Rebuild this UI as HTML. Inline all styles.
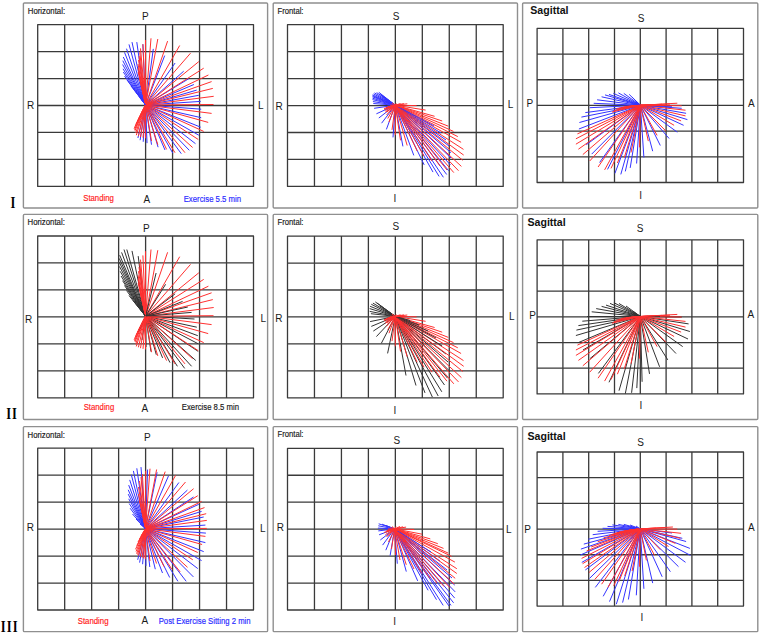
<!DOCTYPE html>
<html><head><meta charset="utf-8"><title>Vectorcardiogram loops</title><style>
html,body{margin:0;padding:0;background:#fff;width:760px;height:634px;overflow:hidden}
svg{display:block}
</style></head><body>
<svg width="760" height="634" viewBox="0 0 760 634">
<rect width="760" height="634" fill="#fff"/>
<rect x="23.4" y="3" width="244.2" height="205.05" rx="1" fill="none" stroke="#8f8f8f" stroke-width="1.4"/>
<rect x="273.2" y="3" width="244.3" height="205.05" rx="1" fill="none" stroke="#8f8f8f" stroke-width="1.4"/>
<rect x="522.6" y="3" width="235.2" height="205.05" rx="1" fill="none" stroke="#8f8f8f" stroke-width="1.4"/>
<rect x="23.4" y="214.4" width="244.2" height="205.05" rx="1" fill="none" stroke="#8f8f8f" stroke-width="1.4"/>
<rect x="273.2" y="214.4" width="244.3" height="205.05" rx="1" fill="none" stroke="#8f8f8f" stroke-width="1.4"/>
<rect x="522.6" y="214.4" width="235.2" height="205.05" rx="1" fill="none" stroke="#8f8f8f" stroke-width="1.4"/>
<rect x="23.4" y="426.6" width="244.2" height="205.05" rx="1" fill="none" stroke="#8f8f8f" stroke-width="1.4"/>
<rect x="273.2" y="426.6" width="244.3" height="205.05" rx="1" fill="none" stroke="#8f8f8f" stroke-width="1.4"/>
<rect x="522.6" y="426.6" width="235.2" height="205.05" rx="1" fill="none" stroke="#8f8f8f" stroke-width="1.4"/>
<path d="M64.68 24.6V186.4M91.65 24.6V186.4M118.63 24.6V186.4M145.6 24.6V186.4M172.57 24.6V186.4M199.55 24.6V186.4M226.53 24.6V186.4M37.7 51.57H253.5M37.7 78.53H253.5M37.7 105.5H253.5M37.7 132.47H253.5M37.7 159.43H253.5M37.7 24.6H253.5V186.4H37.7Z" fill="none" stroke="#3a3a3a" stroke-width="1.3" stroke-linejoin="round"/>
<path d="M314.46 24.7V186.4M341.43 24.7V186.4M368.39 24.7V186.4M395.35 24.7V186.4M422.31 24.7V186.4M449.27 24.7V186.4M476.24 24.7V186.4M287.5 51.65H503.2M287.5 78.6H503.2M287.5 105.55H503.2M287.5 132.5H503.2M287.5 159.45H503.2M287.5 24.7H503.2V186.4H287.5Z" fill="none" stroke="#3a3a3a" stroke-width="1.3" stroke-linejoin="round"/>
<path d="M562.9 28.4V182.5M588.7 28.4V182.5M614.5 28.4V182.5M640.3 28.4V182.5M666.1 28.4V182.5M691.9 28.4V182.5M717.7 28.4V182.5M537.1 54.08H743.5M537.1 79.77H743.5M537.1 105.45H743.5M537.1 131.13H743.5M537.1 156.82H743.5M537.1 28.4H743.5V182.5H537.1Z" fill="none" stroke="#3a3a3a" stroke-width="1.3" stroke-linejoin="round"/>
<path d="M64.68 236V397.8M91.65 236V397.8M118.63 236V397.8M145.6 236V397.8M172.57 236V397.8M199.55 236V397.8M226.53 236V397.8M37.7 262.97H253.5M37.7 289.93H253.5M37.7 316.9H253.5M37.7 343.87H253.5M37.7 370.83H253.5M37.7 236H253.5V397.8H37.7Z" fill="none" stroke="#3a3a3a" stroke-width="1.3" stroke-linejoin="round"/>
<path d="M314.46 236.1V397.8M341.43 236.1V397.8M368.39 236.1V397.8M395.35 236.1V397.8M422.31 236.1V397.8M449.27 236.1V397.8M476.24 236.1V397.8M287.5 263.05H503.2M287.5 290H503.2M287.5 316.95H503.2M287.5 343.9H503.2M287.5 370.85H503.2M287.5 236.1H503.2V397.8H287.5Z" fill="none" stroke="#3a3a3a" stroke-width="1.3" stroke-linejoin="round"/>
<path d="M562.9 239.8V393.9M588.7 239.8V393.9M614.5 239.8V393.9M640.3 239.8V393.9M666.1 239.8V393.9M691.9 239.8V393.9M717.7 239.8V393.9M537.1 265.48H743.5M537.1 291.17H743.5M537.1 316.85H743.5M537.1 342.53H743.5M537.1 368.22H743.5M537.1 239.8H743.5V393.9H537.1Z" fill="none" stroke="#3a3a3a" stroke-width="1.3" stroke-linejoin="round"/>
<path d="M64.68 448.2V610M91.65 448.2V610M118.63 448.2V610M145.6 448.2V610M172.57 448.2V610M199.55 448.2V610M226.53 448.2V610M37.7 475.17H253.5M37.7 502.13H253.5M37.7 529.1H253.5M37.7 556.07H253.5M37.7 583.03H253.5M37.7 448.2H253.5V610H37.7Z" fill="none" stroke="#3a3a3a" stroke-width="1.3" stroke-linejoin="round"/>
<path d="M314.46 448.3V610M341.43 448.3V610M368.39 448.3V610M395.35 448.3V610M422.31 448.3V610M449.27 448.3V610M476.24 448.3V610M287.5 475.25H503.2M287.5 502.2H503.2M287.5 529.15H503.2M287.5 556.1H503.2M287.5 583.05H503.2M287.5 448.3H503.2V610H287.5Z" fill="none" stroke="#3a3a3a" stroke-width="1.3" stroke-linejoin="round"/>
<path d="M562.9 452V606.1M588.7 452V606.1M614.5 452V606.1M640.3 452V606.1M666.1 452V606.1M691.9 452V606.1M717.7 452V606.1M537.1 477.68H743.5M537.1 503.37H743.5M537.1 529.05H743.5M537.1 554.73H743.5M537.1 580.42H743.5M537.1 452H743.5V606.1H537.1Z" fill="none" stroke="#3a3a3a" stroke-width="1.3" stroke-linejoin="round"/>
<path d="M145.6 105L132 42.1M145.6 105L136.8 42.1M145.6 105L195.5 143.7M145.6 105L189.3 150.3M145.6 105L129 44.4M145.6 105L198.8 135.2M145.6 105L142.9 44.2M145.6 105L181.3 153.7M145.6 105L126.5 48.7M145.6 105L200.7 127.2M145.6 105L201.2 117.7M145.6 105L124.5 52.4M145.6 105L153.3 48.9M145.6 105L201.2 109.2M145.6 105L172.8 153.2M145.6 105L200.7 101.4M145.6 105L198.8 95.3M145.6 105L196.7 90.1M145.6 105L164.7 55.6M145.6 105L123.3 57M145.6 105L193.9 84.5M145.6 105L175.1 63M145.6 105L183.7 71.2M145.6 105L188.9 78.6M145.6 105L122.8 60.7" fill="none" stroke="#3434ff" stroke-width="1.0"/>
<path d="M145.6 105L211.6 81.6" fill="none" stroke="#ff3030" stroke-width="1.0"/>
<path d="M145.6 105L165 150" fill="none" stroke="#3434ff" stroke-width="1.0"/>
<path d="M145.6 105L208.4 75M145.6 105L212.8 88.4M145.6 105L203.7 68.2M145.6 105L198.8 61.6M145.6 105L213.7 96.3M145.6 105L179.7 45.5M145.6 105L190.5 53.2M145.6 105L213.5 104.5M145.6 105L167.6 41.1M145.6 105L157.8 39M145.6 105L151 38.3" fill="none" stroke="#ff3030" stroke-width="1.0"/>
<path d="M145.6 105L122.6 64.5" fill="none" stroke="#3434ff" stroke-width="1.0"/>
<path d="M145.6 105L211.6 113.4M145.6 105L145.5 40M145.6 105L208.2 122.4M145.6 105L203.7 131.4M145.6 105L192.6 147.5M145.6 105L198.3 139.5" fill="none" stroke="#ff3030" stroke-width="1.0"/>
<path d="M145.6 105L158.1 147.2" fill="none" stroke="#3434ff" stroke-width="1.0"/>
<path d="M145.6 105L185 152.7" fill="none" stroke="#ff3030" stroke-width="1.0"/>
<path d="M145.6 105L123 68.8" fill="none" stroke="#3434ff" stroke-width="1.0"/>
<path d="M145.6 105L142.9 44.2" fill="none" stroke="#ff3030" stroke-width="1.0"/>
<path d="M145.6 105L151.5 144.7M145.6 105L123.3 72" fill="none" stroke="#3434ff" stroke-width="1.0"/>
<path d="M145.6 105L140.5 48.4M145.6 105L175 152.7" fill="none" stroke="#ff3030" stroke-width="1.0"/>
<path d="M145.6 105L147 143.1" fill="none" stroke="#3434ff" stroke-width="1.0"/>
<path d="M145.6 105L139.75 52.2" fill="none" stroke="#ff3030" stroke-width="1.0"/>
<path d="M145.6 105L143.2 141.8M145.6 105L124.5 76M145.6 105L140.1 140.2" fill="none" stroke="#3434ff" stroke-width="1.0"/>
<path d="M145.6 105L139 56M145.6 105L166.6 149.4" fill="none" stroke="#ff3030" stroke-width="1.0"/>
<path d="M145.6 105L137.9 138" fill="none" stroke="#3434ff" stroke-width="1.0"/>
<path d="M145.6 105L138.5 60" fill="none" stroke="#ff3030" stroke-width="1.0"/>
<path d="M145.6 105L127 80" fill="none" stroke="#3434ff" stroke-width="1.0"/>
<path d="M145.6 105L138 64M145.6 105L157.8 144.7M145.6 105L138.1 68M145.6 105L151.5 141" fill="none" stroke="#ff3030" stroke-width="1.0"/>
<path d="M145.6 105L131 86" fill="none" stroke="#3434ff" stroke-width="1.0"/>
<path d="M145.6 105L138.2 72M145.6 105L145.5 138.3M145.6 105L143 137.65M145.6 105L140.5 137M145.6 105L138.4 136.1M145.6 105L136.3 135.2M145.6 105L135.65 133M145.6 105L139.35 77M145.6 105L135 130.8M145.6 105L134.55 129.7M145.6 105L134.1 128.6M145.6 105L135.05 126.3M145.6 105L140.5 82" fill="none" stroke="#ff3030" stroke-width="1.0"/>
<path d="M145.6 105L136 92" fill="none" stroke="#3434ff" stroke-width="1.0"/>
<path d="M145.6 105L136 124M145.6 105L142.25 87M145.6 105L137.5 121M145.6 105L139 118M145.6 105L144 92" fill="none" stroke="#ff3030" stroke-width="1.0"/>
<path d="M145.6 105L140 98" fill="none" stroke="#3434ff" stroke-width="1.0"/>
<path d="M145.6 105L140.5 115M145.6 105L142 112" fill="none" stroke="#ff3030" stroke-width="1.0"/>
<path d="M395.3 105.2L443.4 177.3M395.3 105.2L446.7 174.5M395.3 105.2L448.6 170.7M395.3 105.2L439.1 176.4M395.3 105.2L450.5 165M395.3 105.2L433 172.1M395.3 105.2L451 158M395.3 105.2L451 152.7M395.3 105.2L449 146M395.3 105.2L424.2 164.9" fill="none" stroke="#3434ff" stroke-width="1.0"/>
<path d="M395.3 105.2L458.5 170.7M395.3 105.2L461.4 166.4M395.3 105.2L453.8 172.6" fill="none" stroke="#ff3030" stroke-width="1.0"/>
<path d="M395.3 105.2L446 140" fill="none" stroke="#3434ff" stroke-width="1.0"/>
<path d="M395.3 105.2L462.8 160.3M395.3 105.2L463.7 155.1M395.3 105.2L447 170M395.3 105.2L463.5 149.4" fill="none" stroke="#ff3030" stroke-width="1.0"/>
<path d="M395.3 105.2L413.8 155.4M395.3 105.2L441 133" fill="none" stroke="#3434ff" stroke-width="1.0"/>
<path d="M395.3 105.2L461.1 142.3M395.3 105.2L440 166M395.3 105.2L457.8 136.6M395.3 105.2L432 161M395.3 105.2L453.5 131.4" fill="none" stroke="#ff3030" stroke-width="1.0"/>
<path d="M395.3 105.2L434 126M395.3 105.2L402.9 146.4" fill="none" stroke="#3434ff" stroke-width="1.0"/>
<path d="M395.3 105.2L424 156M395.3 105.2L448.3 126.2M395.3 105.2L417.2 151.1M395.3 105.2L442.2 121" fill="none" stroke="#ff3030" stroke-width="1.0"/>
<path d="M395.3 105.2L393 137.4" fill="none" stroke="#3434ff" stroke-width="1.0"/>
<path d="M395.3 105.2L407.2 145.5M395.3 105.2L434.6 116.3" fill="none" stroke="#ff3030" stroke-width="1.0"/>
<path d="M395.3 105.2L386.4 129.4M395.3 105.2L372.5 94.9" fill="none" stroke="#3434ff" stroke-width="1.0"/>
<path d="M395.3 105.2L400.5 140.3" fill="none" stroke="#ff3030" stroke-width="1.0"/>
<path d="M395.3 105.2L372.5 95.85M395.3 105.2L373.5 93.9M395.3 105.2L372.5 96.8M395.3 105.2L374.5 92.9M395.3 105.2L372.5 98.2M395.3 105.2L372.5 99.6M395.3 105.2L372.9 101.55M395.3 105.2L381.6 123.2M395.3 105.2L376.65 92.6M395.3 105.2L373.3 103.5" fill="none" stroke="#3434ff" stroke-width="1.0"/>
<path d="M395.3 105.2L425.6 110.1" fill="none" stroke="#ff3030" stroke-width="1.0"/>
<path d="M395.3 105.2L374.1 108.3M395.3 105.2L378.8 92.3" fill="none" stroke="#3434ff" stroke-width="1.0"/>
<path d="M395.3 105.2L395.3 135.1" fill="none" stroke="#ff3030" stroke-width="1.0"/>
<path d="M395.3 105.2L378.8 118M395.3 105.2L376.4 113.8M395.3 105.2L379.9 93.65M395.3 105.2L381 95" fill="none" stroke="#3434ff" stroke-width="1.0"/>
<path d="M395.3 105.2L392 129.9M395.3 105.2L416.6 105.6" fill="none" stroke="#ff3030" stroke-width="1.0"/>
<path d="M395.3 105.2L383 97" fill="none" stroke="#3434ff" stroke-width="1.0"/>
<path d="M395.3 105.2L389 122" fill="none" stroke="#ff3030" stroke-width="1.0"/>
<path d="M395.3 105.2L385 99" fill="none" stroke="#3434ff" stroke-width="1.0"/>
<path d="M395.3 105.2L387.75 118.5M395.3 105.2L386.5 115M395.3 105.2L385.25 112.2M395.3 105.2L407.3 103.8M395.3 105.2L384 109.4M395.3 105.2L384 108.5M395.3 105.2L385.5 110.5M395.3 105.2L387 112M395.3 105.2L386 108.2M395.3 105.2L386 107.5M395.3 105.2L403.9 103.65M395.3 105.2L388 107M395.3 105.2L388 107M395.3 105.2L390 109M395.3 105.2L400.5 103.5M395.3 105.2L390 105M395.3 105.2L392 103M395.3 105.2L396.25 103.25" fill="none" stroke="#ff3030" stroke-width="1.0"/>
<path d="M640.4 105.3L614.9 173.4M640.4 105.3L607.5 169.4M640.4 105.3L620.8 174.4M640.4 105.3L599.6 162.5M640.4 105.3L591.7 154.1M640.4 105.3L625.3 171.4M640.4 105.3L586.3 144.7M640.4 105.3L578.9 129M640.4 105.3L630.2 167.9M640.4 105.3L579.4 122.5M640.4 105.3L581.4 117.1M640.4 105.3L636.6 163.5M640.4 105.3L585.3 112.6" fill="none" stroke="#3434ff" stroke-width="1.0"/>
<path d="M640.4 105.3L578.4 149.2M640.4 105.3L582.8 154.6M640.4 105.3L575.9 144.2M640.4 105.3L589.7 161M640.4 105.3L598.1 167" fill="none" stroke="#ff3030" stroke-width="1.0"/>
<path d="M640.4 105.3L643.9 157.5" fill="none" stroke="#3434ff" stroke-width="1.0"/>
<path d="M640.4 105.3L604.6 169.9M640.4 105.3L575.9 138.8" fill="none" stroke="#ff3030" stroke-width="1.0"/>
<path d="M640.4 105.3L589.7 107.7M640.4 105.3L687.4 119.6" fill="none" stroke="#3434ff" stroke-width="1.0"/>
<path d="M640.4 105.3L611 168.4M640.4 105.3L577.4 133.9" fill="none" stroke="#ff3030" stroke-width="1.0"/>
<path d="M640.4 105.3L683.6 125.3M640.4 105.3L652.7 151.2M640.4 105.3L593.7 103.3M640.4 105.3L686.1 113.3M640.4 105.3L677.3 132.2M640.4 105.3L660.3 145.5M640.4 105.3L669.1 138.5M640.4 105.3L597.1 99.8" fill="none" stroke="#3434ff" stroke-width="1.0"/>
<path d="M640.4 105.3L617.4 163" fill="none" stroke="#ff3030" stroke-width="1.0"/>
<path d="M640.4 105.3L681.7 108.3M640.4 105.3L601.6 96.8" fill="none" stroke="#3434ff" stroke-width="1.0"/>
<path d="M640.4 105.3L624.3 157.6" fill="none" stroke="#ff3030" stroke-width="1.0"/>
<path d="M640.4 105.3L605 94.9" fill="none" stroke="#3434ff" stroke-width="1.0"/>
<path d="M640.4 105.3L631 152.5" fill="none" stroke="#ff3030" stroke-width="1.0"/>
<path d="M640.4 105.3L609 94.4" fill="none" stroke="#3434ff" stroke-width="1.0"/>
<path d="M640.4 105.3L685.5 115.9M640.4 105.3L685.5 110.2" fill="none" stroke="#ff3030" stroke-width="1.0"/>
<path d="M640.4 105.3L672 106.8" fill="none" stroke="#3434ff" stroke-width="1.0"/>
<path d="M640.4 105.3L681.1 120.9" fill="none" stroke="#ff3030" stroke-width="1.0"/>
<path d="M640.4 105.3L613.4 93.4" fill="none" stroke="#3434ff" stroke-width="1.0"/>
<path d="M640.4 105.3L639.5 147.4M640.4 105.3L681.7 105.8M640.4 105.3L674.1 125.3M640.4 105.3L677.3 103.2M640.4 105.3L648.3 141.1M640.4 105.3L665.9 131" fill="none" stroke="#ff3030" stroke-width="1.0"/>
<path d="M640.4 105.3L618.4 92.9" fill="none" stroke="#3434ff" stroke-width="1.0"/>
<path d="M640.4 105.3L657.1 135.4M640.4 105.3L670 104M640.4 105.3L612 112" fill="none" stroke="#ff3030" stroke-width="1.0"/>
<path d="M640.4 105.3L623.8 93.4" fill="none" stroke="#3434ff" stroke-width="1.0"/>
<path d="M640.4 105.3L614 110.5M640.4 105.3L616 109" fill="none" stroke="#ff3030" stroke-width="1.0"/>
<path d="M640.4 105.3L629.2 94.4" fill="none" stroke="#3434ff" stroke-width="1.0"/>
<path d="M640.4 105.3L618.5 108.25M640.4 105.3L662 104.2M640.4 105.3L621 107.5M640.4 105.3L623.5 107" fill="none" stroke="#ff3030" stroke-width="1.0"/>
<path d="M640.4 105.3L632 97" fill="none" stroke="#3434ff" stroke-width="1.0"/>
<path d="M640.4 105.3L655 104.5M640.4 105.3L626 106.5M640.4 105.3L628.5 106.25M640.4 105.3L631 106" fill="none" stroke="#ff3030" stroke-width="1.0"/>
<path d="M640.4 105.3L636 101" fill="none" stroke="#3434ff" stroke-width="1.0"/>
<path d="M640.4 105.3L648 105M640.4 105.3L633 105.8M640.4 105.3L635 105.6" fill="none" stroke="#ff3030" stroke-width="1.0"/>
<path d="M145.6 316.2L124 249.5M145.6 316.2L126.8 249.5M145.6 316.2L121.6 252.4M145.6 316.2L191.6 366.3M145.6 316.2L195.8 360.5M145.6 316.2L132 250.9M145.6 316.2L119.7 255.2M145.6 316.2L184.7 368.4M145.6 316.2L119.3 258.5M145.6 316.2L198.2 351.4M145.6 316.2L138.2 256.1M145.6 316.2L119.3 262.3M145.6 316.2L198.2 343.8M145.6 316.2L177.4 366.3M145.6 316.2L119.5 266.5M145.6 316.2L197.8 335.7M145.6 316.2L170 362.6M145.6 316.2L196.8 327.2M145.6 316.2L120.2 271.3" fill="none" stroke="#333333" stroke-width="1.0"/>
<path d="M145.6 316.2L211.6 292.8" fill="none" stroke="#ff3030" stroke-width="1.0"/>
<path d="M145.6 316.2L194.5 319" fill="none" stroke="#333333" stroke-width="1.0"/>
<path d="M145.6 316.2L208.4 286.2M145.6 316.2L212.8 299.6M145.6 316.2L203.7 279.4M145.6 316.2L198.8 272.8M145.6 316.2L213.7 307.5M145.6 316.2L179.7 256.7M145.6 316.2L190.5 264.4M145.6 316.2L213.5 315.7M145.6 316.2L167.6 252.3" fill="none" stroke="#ff3030" stroke-width="1.0"/>
<path d="M145.6 316.2L121.1 276" fill="none" stroke="#333333" stroke-width="1.0"/>
<path d="M145.6 316.2L157.8 250.2M145.6 316.2L151 249.5M145.6 316.2L211.6 324.6" fill="none" stroke="#ff3030" stroke-width="1.0"/>
<path d="M145.6 316.2L191.6 312.4" fill="none" stroke="#333333" stroke-width="1.0"/>
<path d="M145.6 316.2L145.5 251.2M145.6 316.2L208.2 333.6" fill="none" stroke="#ff3030" stroke-width="1.0"/>
<path d="M145.6 316.2L162.6 357.9" fill="none" stroke="#333333" stroke-width="1.0"/>
<path d="M145.6 316.2L203.7 342.6" fill="none" stroke="#ff3030" stroke-width="1.0"/>
<path d="M145.6 316.2L156.1 273" fill="none" stroke="#333333" stroke-width="1.0"/>
<path d="M145.6 316.2L192.6 358.7M145.6 316.2L198.3 350.7M145.6 316.2L185 363.9" fill="none" stroke="#ff3030" stroke-width="1.0"/>
<path d="M145.6 316.2L187.8 307" fill="none" stroke="#333333" stroke-width="1.0"/>
<path d="M145.6 316.2L142.9 255.4" fill="none" stroke="#ff3030" stroke-width="1.0"/>
<path d="M145.6 316.2L122.6 280.7M145.6 316.2L156.3 354.7M145.6 316.2L182.6 301.4" fill="none" stroke="#333333" stroke-width="1.0"/>
<path d="M145.6 316.2L140.5 259.6M145.6 316.2L175 363.9" fill="none" stroke="#ff3030" stroke-width="1.0"/>
<path d="M145.6 316.2L165.6 284.3M145.6 316.2L124.5 285.5" fill="none" stroke="#333333" stroke-width="1.0"/>
<path d="M145.6 316.2L139.75 263.4" fill="none" stroke="#ff3030" stroke-width="1.0"/>
<path d="M145.6 316.2L175.1 293.8M145.6 316.2L151 351.6" fill="none" stroke="#333333" stroke-width="1.0"/>
<path d="M145.6 316.2L139 267.2M145.6 316.2L166.6 360.6" fill="none" stroke="#ff3030" stroke-width="1.0"/>
<path d="M145.6 316.2L126.5 290.5" fill="none" stroke="#333333" stroke-width="1.0"/>
<path d="M145.6 316.2L138.5 271.2" fill="none" stroke="#ff3030" stroke-width="1.0"/>
<path d="M145.6 316.2L146 347" fill="none" stroke="#333333" stroke-width="1.0"/>
<path d="M145.6 316.2L138 275.2M145.6 316.2L157.8 355.9" fill="none" stroke="#ff3030" stroke-width="1.0"/>
<path d="M145.6 316.2L129 295.5" fill="none" stroke="#333333" stroke-width="1.0"/>
<path d="M145.6 316.2L138.1 279.2M145.6 316.2L151.5 352.2" fill="none" stroke="#ff3030" stroke-width="1.0"/>
<path d="M145.6 316.2L142 340" fill="none" stroke="#333333" stroke-width="1.0"/>
<path d="M145.6 316.2L138.2 283.2M145.6 316.2L145.5 349.5M145.6 316.2L143 348.85M145.6 316.2L140.5 348.2M145.6 316.2L138.4 347.3M145.6 316.2L136.3 346.4M145.6 316.2L135.65 344.2" fill="none" stroke="#ff3030" stroke-width="1.0"/>
<path d="M145.6 316.2L133 300.5" fill="none" stroke="#333333" stroke-width="1.0"/>
<path d="M145.6 316.2L139.35 288.2M145.6 316.2L135 342M145.6 316.2L134.55 340.9M145.6 316.2L134.1 339.8" fill="none" stroke="#ff3030" stroke-width="1.0"/>
<path d="M145.6 316.2L138 332" fill="none" stroke="#333333" stroke-width="1.0"/>
<path d="M145.6 316.2L135.05 337.5M145.6 316.2L140.5 293.2M145.6 316.2L136 335.2" fill="none" stroke="#ff3030" stroke-width="1.0"/>
<path d="M145.6 316.2L137 305" fill="none" stroke="#333333" stroke-width="1.0"/>
<path d="M145.6 316.2L142.25 298.2M145.6 316.2L137.5 332.2M145.6 316.2L139 329.2M145.6 316.2L144 303.2M145.6 316.2L140.5 326.2" fill="none" stroke="#ff3030" stroke-width="1.0"/>
<path d="M145.6 316.2L141 310" fill="none" stroke="#333333" stroke-width="1.0"/>
<path d="M145.6 316.2L142 323.2" fill="none" stroke="#ff3030" stroke-width="1.0"/>
<path d="M395.3 316.4L438.2 396M395.3 316.4L432.4 397.1M395.3 316.4L441.8 391.8M395.3 316.4L444.5 385M395.3 316.4L425 392.9M395.3 316.4L447.6 378.2M395.3 316.4L448.5 370M395.3 316.4L416 385.5M395.3 316.4L448 362" fill="none" stroke="#333333" stroke-width="1.0"/>
<path d="M395.3 316.4L458.5 381.9" fill="none" stroke="#ff3030" stroke-width="1.0"/>
<path d="M395.3 316.4L446 354" fill="none" stroke="#333333" stroke-width="1.0"/>
<path d="M395.3 316.4L461.4 377.6M395.3 316.4L453.8 383.8M395.3 316.4L462.8 371.5" fill="none" stroke="#ff3030" stroke-width="1.0"/>
<path d="M395.3 316.4L406 375.5" fill="none" stroke="#333333" stroke-width="1.0"/>
<path d="M395.3 316.4L463.7 366.3M395.3 316.4L447 381.2M395.3 316.4L463.5 360.6" fill="none" stroke="#ff3030" stroke-width="1.0"/>
<path d="M395.3 316.4L442 346" fill="none" stroke="#333333" stroke-width="1.0"/>
<path d="M395.3 316.4L461.1 353.5M395.3 316.4L440 377.2M395.3 316.4L457.8 347.8" fill="none" stroke="#ff3030" stroke-width="1.0"/>
<path d="M395.3 316.4L395.5 363.4" fill="none" stroke="#333333" stroke-width="1.0"/>
<path d="M395.3 316.4L432 372.2" fill="none" stroke="#ff3030" stroke-width="1.0"/>
<path d="M395.3 316.4L436 338" fill="none" stroke="#333333" stroke-width="1.0"/>
<path d="M395.3 316.4L453.5 342.6M395.3 316.4L424 367.2M395.3 316.4L448.3 337.4" fill="none" stroke="#ff3030" stroke-width="1.0"/>
<path d="M395.3 316.4L387.6 353.4M395.3 316.4L428 331" fill="none" stroke="#333333" stroke-width="1.0"/>
<path d="M395.3 316.4L417.2 362.3M395.3 316.4L442.2 332.2" fill="none" stroke="#ff3030" stroke-width="1.0"/>
<path d="M395.3 316.4L381.3 343.4" fill="none" stroke="#333333" stroke-width="1.0"/>
<path d="M395.3 316.4L407.2 356.7M395.3 316.4L434.6 327.5" fill="none" stroke="#ff3030" stroke-width="1.0"/>
<path d="M395.3 316.4L376.4 336.6M395.3 316.4L370.1 306.3M395.3 316.4L371.3 304.3M395.3 316.4L369.7 308.6M395.3 316.4L373.3 331.1M395.3 316.4L369.7 311.4M395.3 316.4L372.9 303.1M395.3 316.4L371.3 326.4M395.3 316.4L370.1 321.6M395.3 316.4L419 325" fill="none" stroke="#333333" stroke-width="1.0"/>
<path d="M395.3 316.4L400.5 351.5" fill="none" stroke="#ff3030" stroke-width="1.0"/>
<path d="M395.3 316.4L375.3 301.9M395.3 316.4L370.9 313.7M395.3 316.4L377 303" fill="none" stroke="#333333" stroke-width="1.0"/>
<path d="M395.3 316.4L425.6 321.3M395.3 316.4L395.3 346.3" fill="none" stroke="#ff3030" stroke-width="1.0"/>
<path d="M395.3 316.4L380 306" fill="none" stroke="#333333" stroke-width="1.0"/>
<path d="M395.3 316.4L392 341.1" fill="none" stroke="#ff3030" stroke-width="1.0"/>
<path d="M395.3 316.4L410 320.5" fill="none" stroke="#333333" stroke-width="1.0"/>
<path d="M395.3 316.4L416.6 316.8M395.3 316.4L389 333.2" fill="none" stroke="#ff3030" stroke-width="1.0"/>
<path d="M395.3 316.4L386 311" fill="none" stroke="#333333" stroke-width="1.0"/>
<path d="M395.3 316.4L387.75 329.7M395.3 316.4L386.5 326.2M395.3 316.4L385.25 323.4M395.3 316.4L407.3 315M395.3 316.4L384 320.6M395.3 316.4L384 319.7M395.3 316.4L385.5 321.7M395.3 316.4L387 323.2M395.3 316.4L386 319.4M395.3 316.4L386 318.7M395.3 316.4L403.9 314.85M395.3 316.4L388 318.2M395.3 316.4L388 318.2M395.3 316.4L390 320.2M395.3 316.4L400.5 314.7M395.3 316.4L390 316.2M395.3 316.4L392 314.2M395.3 316.4L396.25 314.45" fill="none" stroke="#ff3030" stroke-width="1.0"/>
<path d="M640.4 316.5L625.3 393.7M640.4 316.5L619 390.7M640.4 316.5L631.6 392.8M640.4 316.5L609 382.3M640.4 316.5L636.8 388.1M640.4 316.5L598.4 373.4M640.4 316.5L577.9 342.8M640.4 316.5L575.9 335.5M640.4 316.5L583 350M640.4 316.5L590 358.6M640.4 316.5L576.4 330.1M640.4 316.5L642.1 381.8M640.4 316.5L578.4 325.6M640.4 316.5L582.3 321.2M640.4 316.5L649.5 373.9M640.4 316.5L659.6 366.8M640.4 316.5L587 316.5" fill="none" stroke="#333333" stroke-width="1.0"/>
<path d="M640.4 316.5L578.4 360.4M640.4 316.5L582.8 365.8M640.4 316.5L575.9 355.4M640.4 316.5L589.7 372.2" fill="none" stroke="#ff3030" stroke-width="1.0"/>
<path d="M640.4 316.5L688 339" fill="none" stroke="#333333" stroke-width="1.0"/>
<path d="M640.4 316.5L598.1 378.2" fill="none" stroke="#ff3030" stroke-width="1.0"/>
<path d="M640.4 316.5L682.7 346.6M640.4 316.5L689.9 331.5" fill="none" stroke="#333333" stroke-width="1.0"/>
<path d="M640.4 316.5L604.6 381.1" fill="none" stroke="#ff3030" stroke-width="1.0"/>
<path d="M640.4 316.5L676 353.5M640.4 316.5L667.8 359.9" fill="none" stroke="#333333" stroke-width="1.0"/>
<path d="M640.4 316.5L575.9 350" fill="none" stroke="#ff3030" stroke-width="1.0"/>
<path d="M640.4 316.5L591.7 311.8M640.4 316.5L688.6 323.9" fill="none" stroke="#333333" stroke-width="1.0"/>
<path d="M640.4 316.5L611 379.6M640.4 316.5L577.4 345.1" fill="none" stroke="#ff3030" stroke-width="1.0"/>
<path d="M640.4 316.5L596.2 308.6" fill="none" stroke="#333333" stroke-width="1.0"/>
<path d="M640.4 316.5L617.4 374.2" fill="none" stroke="#ff3030" stroke-width="1.0"/>
<path d="M640.4 316.5L681.7 317M640.4 316.5L601.6 306.4" fill="none" stroke="#333333" stroke-width="1.0"/>
<path d="M640.4 316.5L624.3 368.8" fill="none" stroke="#ff3030" stroke-width="1.0"/>
<path d="M640.4 316.5L606 305.1" fill="none" stroke="#333333" stroke-width="1.0"/>
<path d="M640.4 316.5L631 363.7" fill="none" stroke="#ff3030" stroke-width="1.0"/>
<path d="M640.4 316.5L610 303.4" fill="none" stroke="#333333" stroke-width="1.0"/>
<path d="M640.4 316.5L685.5 327.1M640.4 316.5L685.5 321.4M640.4 316.5L681.1 332.1" fill="none" stroke="#ff3030" stroke-width="1.0"/>
<path d="M640.4 316.5L613.9 302.7M640.4 316.5L670 316.5" fill="none" stroke="#333333" stroke-width="1.0"/>
<path d="M640.4 316.5L639.5 358.6M640.4 316.5L681.7 317M640.4 316.5L674.1 336.5M640.4 316.5L677.3 314.4M640.4 316.5L648.3 352.3M640.4 316.5L665.9 342.2" fill="none" stroke="#ff3030" stroke-width="1.0"/>
<path d="M640.4 316.5L619 303.5" fill="none" stroke="#333333" stroke-width="1.0"/>
<path d="M640.4 316.5L657.1 346.6M640.4 316.5L670 315.2M640.4 316.5L612 323.2" fill="none" stroke="#ff3030" stroke-width="1.0"/>
<path d="M640.4 316.5L660 316.3" fill="none" stroke="#333333" stroke-width="1.0"/>
<path d="M640.4 316.5L614 321.7" fill="none" stroke="#ff3030" stroke-width="1.0"/>
<path d="M640.4 316.5L626 306" fill="none" stroke="#333333" stroke-width="1.0"/>
<path d="M640.4 316.5L616 320.2M640.4 316.5L618.5 319.45M640.4 316.5L662 315.4M640.4 316.5L621 318.7M640.4 316.5L623.5 318.2M640.4 316.5L655 315.7M640.4 316.5L626 317.7M640.4 316.5L628.5 317.45" fill="none" stroke="#ff3030" stroke-width="1.0"/>
<path d="M640.4 316.5L634 312" fill="none" stroke="#333333" stroke-width="1.0"/>
<path d="M640.4 316.5L631 317.2M640.4 316.5L648 316.2M640.4 316.5L633 317M640.4 316.5L635 316.8" fill="none" stroke="#ff3030" stroke-width="1.0"/>
<path d="M145.5 528.7L193.4 576.9M145.5 528.7L186.2 581.3M145.5 528.7L197.8 568.6M145.5 528.7L201.6 560.6M145.5 528.7L203.7 551.6M145.5 528.7L177.9 581.3M145.5 528.7L141 467.1M145.5 528.7L205.4 542.6M145.5 528.7L136.8 468.3M145.5 528.7L205.9 533.1M145.5 528.7L205.4 525.1M145.5 528.7L203.7 517M145.5 528.7L147.6 469.5M145.5 528.7L133.4 470.9M145.5 528.7L201.6 511.4M145.5 528.7L198.8 504.3M145.5 528.7L168.5 475.9M145.5 528.7L157.1 472.3M145.5 528.7L193.5 497M145.5 528.7L178.9 482.5M145.5 528.7L187.4 490.1M145.5 528.7L131.3 474.7M145.5 528.7L169.7 577.5M145.5 528.7L129.7 479.9M145.5 528.7L162.5 573M145.5 528.7L128.7 485.1" fill="none" stroke="#3434ff" stroke-width="1.0"/>
<path d="M145.5 528.7L204.5 507.6M145.5 528.7L193.6 488.7M145.5 528.7L206.2 513.7M145.5 528.7L201.6 501.4M145.5 528.7L206.8 520.4M145.5 528.7L197.8 495.7M145.5 528.7L185.5 482M145.5 528.7L206.8 528.4M145.5 528.7L175.6 475.4" fill="none" stroke="#ff3030" stroke-width="1.0"/>
<path d="M145.5 528.7L128.2 489.8" fill="none" stroke="#3434ff" stroke-width="1.0"/>
<path d="M145.5 528.7L165.2 471.6M145.5 528.7L205.4 536.4M145.5 528.7L156.6 469.5M145.5 528.7L150 468.7" fill="none" stroke="#ff3030" stroke-width="1.0"/>
<path d="M145.5 528.7L155.3 569.2" fill="none" stroke="#3434ff" stroke-width="1.0"/>
<path d="M145.5 528.7L202.1 544.5M145.5 528.7L145.7 470.9M145.5 528.7L197.8 552.5M145.5 528.7L187.5 567.3M145.5 528.7L192.8 559.8M145.5 528.7L180.2 571.9" fill="none" stroke="#ff3030" stroke-width="1.0"/>
<path d="M145.5 528.7L128.2 494.1M145.5 528.7L149.8 567" fill="none" stroke="#3434ff" stroke-width="1.0"/>
<path d="M145.5 528.7L142.4 474.2" fill="none" stroke="#ff3030" stroke-width="1.0"/>
<path d="M145.5 528.7L145.9 565.9" fill="none" stroke="#3434ff" stroke-width="1.0"/>
<path d="M145.5 528.7L141 477" fill="none" stroke="#ff3030" stroke-width="1.0"/>
<path d="M145.5 528.7L142.6 564.2M145.5 528.7L139.6 562.6M145.5 528.7L128.7 498.8" fill="none" stroke="#3434ff" stroke-width="1.0"/>
<path d="M145.5 528.7L172 569.5M145.5 528.7L139.5 481" fill="none" stroke="#ff3030" stroke-width="1.0"/>
<path d="M145.5 528.7L137.7 559.8M145.5 528.7L129.2 503.5" fill="none" stroke="#3434ff" stroke-width="1.0"/>
<path d="M145.5 528.7L138.5 487M145.5 528.7L164 566.5" fill="none" stroke="#ff3030" stroke-width="1.0"/>
<path d="M145.5 528.7L130.1 508.2" fill="none" stroke="#3434ff" stroke-width="1.0"/>
<path d="M145.5 528.7L156.5 563.5M145.5 528.7L138.5 494M145.5 528.7L150 561M145.5 528.7L145.4 559.2M145.5 528.7L143.75 558.4M145.5 528.7L142.1 557.6M145.5 528.7L139.5 501M145.5 528.7L140.3 556.55" fill="none" stroke="#ff3030" stroke-width="1.0"/>
<path d="M145.5 528.7L132.5 514" fill="none" stroke="#3434ff" stroke-width="1.0"/>
<path d="M145.5 528.7L138.5 555.5M145.5 528.7L137.55 554.6M145.5 528.7L136.6 553.7M145.5 528.7L136.05 551.5M145.5 528.7L135.5 549.3M145.5 528.7L141.5 508" fill="none" stroke="#ff3030" stroke-width="1.0"/>
<path d="M145.5 528.7L136 519" fill="none" stroke="#3434ff" stroke-width="1.0"/>
<path d="M145.5 528.7L136.75 545.65M145.5 528.7L138 542M145.5 528.7L143.5 516M145.5 528.7L139.5 539" fill="none" stroke="#ff3030" stroke-width="1.0"/>
<path d="M145.5 528.7L140 524" fill="none" stroke="#3434ff" stroke-width="1.0"/>
<path d="M145.5 528.7L141 536" fill="none" stroke="#ff3030" stroke-width="1.0"/>
<path d="M394.6 528.9L451 605.4M394.6 528.9L453.6 602.8M394.6 528.9L449 606M394.6 528.9L454.7 598.1M394.6 528.9L443.2 605.4M394.6 528.9L455.2 591.9M394.6 528.9L454.7 585.1M394.6 528.9L436.5 599.7M394.6 528.9L452 578M394.6 528.9L428.1 590.3M394.6 528.9L447 570M394.6 528.9L417.7 580.9" fill="none" stroke="#3434ff" stroke-width="1.0"/>
<path d="M394.6 528.9L454.2 584.1M394.6 528.9L450 587.7" fill="none" stroke="#ff3030" stroke-width="1.0"/>
<path d="M394.6 528.9L440 561" fill="none" stroke="#3434ff" stroke-width="1.0"/>
<path d="M394.6 528.9L455.2 578.3M394.6 528.9L456.8 573.5M394.6 528.9L444 586.5M394.6 528.9L456.8 568.7M394.6 528.9L454.9 562.1M394.6 528.9L437 583M394.6 528.9L451.6 556.4" fill="none" stroke="#ff3030" stroke-width="1.0"/>
<path d="M394.6 528.9L406.3 571.6M394.6 528.9L431 552" fill="none" stroke="#3434ff" stroke-width="1.0"/>
<path d="M394.6 528.9L430 578.5M394.6 528.9L448.2 553.1M394.6 528.9L443.5 548.4M394.6 528.9L422 573.5" fill="none" stroke="#ff3030" stroke-width="1.0"/>
<path d="M394.6 528.9L397.3 563.7" fill="none" stroke="#3434ff" stroke-width="1.0"/>
<path d="M394.6 528.9L437.8 543.7M394.6 528.9L414 569" fill="none" stroke="#ff3030" stroke-width="1.0"/>
<path d="M394.6 528.9L390.1 555.7" fill="none" stroke="#3434ff" stroke-width="1.0"/>
<path d="M394.6 528.9L406.3 564.8M394.6 528.9L430.3 538.9" fill="none" stroke="#ff3030" stroke-width="1.0"/>
<path d="M394.6 528.9L385.8 550.2" fill="none" stroke="#3434ff" stroke-width="1.0"/>
<path d="M394.6 528.9L400 560" fill="none" stroke="#ff3030" stroke-width="1.0"/>
<path d="M394.6 528.9L382.6 545.1" fill="none" stroke="#3434ff" stroke-width="1.0"/>
<path d="M394.6 528.9L422.2 534.2M394.6 528.9L395.5 555" fill="none" stroke="#ff3030" stroke-width="1.0"/>
<path d="M394.6 528.9L380.3 540M394.6 528.9L377.9 528.1M394.6 528.9L378.7 523.8M394.6 528.9L378.3 525.8M394.6 528.9L379.1 534.8M394.6 528.9L378.3 530.9" fill="none" stroke="#3434ff" stroke-width="1.0"/>
<path d="M394.6 528.9L391.5 549M394.6 528.9L414.2 529.5" fill="none" stroke="#ff3030" stroke-width="1.0"/>
<path d="M394.6 528.9L382 524.2" fill="none" stroke="#3434ff" stroke-width="1.0"/>
<path d="M394.6 528.9L388.5 542" fill="none" stroke="#ff3030" stroke-width="1.0"/>
<path d="M394.6 528.9L386 525.5" fill="none" stroke="#3434ff" stroke-width="1.0"/>
<path d="M394.6 528.9L406.1 527.1M394.6 528.9L386.5 537M394.6 528.9L384 532.5M394.6 528.9L385.5 534.5M394.6 528.9L387.5 536M394.6 528.9L386 532M394.6 528.9L403.05 526.8M394.6 528.9L386.5 530.5M394.6 528.9L387 530.5M394.6 528.9L388 531M394.6 528.9L388 529M394.6 528.9L401 529.5M394.6 528.9L390 533M394.6 528.9L400 526.5M394.6 528.9L390 527.75M394.6 528.9L392 526.5M394.6 528.9L397 531M394.6 528.9L396 526.5" fill="none" stroke="#ff3030" stroke-width="1.0"/>
<path d="M640.2 528.9L616.3 604.2M640.2 528.9L609.5 601.6M640.2 528.9L603.2 596.3M640.2 528.9L622.6 602.6M640.2 528.9L595.3 587.4M640.2 528.9L628.4 599.5M640.2 528.9L589.5 578.4M640.2 528.9L585.3 570M640.2 528.9L581.8 562.4M640.2 528.9L636.3 595.3M640.2 528.9L580.4 555M640.2 528.9L580.9 549.1M640.2 528.9L643.9 588.8M640.2 528.9L583.8 544.1M640.2 528.9L690.5 555.4M640.2 528.9L685.5 562.3M640.2 528.9L652.7 583.1M640.2 528.9L678.5 566.7M640.2 528.9L689.9 548.4M640.2 528.9L588.3 539.2M640.2 528.9L662.2 576.8M640.2 528.9L670.4 571.7M640.2 528.9L592.7 534.7" fill="none" stroke="#3434ff" stroke-width="1.0"/>
<path d="M640.2 528.9L594.7 579.5" fill="none" stroke="#ff3030" stroke-width="1.0"/>
<path d="M640.2 528.9L686.1 541.5" fill="none" stroke="#3434ff" stroke-width="1.0"/>
<path d="M640.2 528.9L584.5 567.5M640.2 528.9L601.6 584.2M640.2 528.9L588.9 572.6M640.2 528.9L582.6 563.7M640.2 528.9L607.9 587.4M640.2 528.9L581.6 558.4M640.2 528.9L613.7 585.8" fill="none" stroke="#ff3030" stroke-width="1.0"/>
<path d="M640.2 528.9L682.3 538.3M640.2 528.9L597.6 531.3" fill="none" stroke="#3434ff" stroke-width="1.0"/>
<path d="M640.2 528.9L586.5 551M640.2 528.9L618.9 581.6" fill="none" stroke="#ff3030" stroke-width="1.0"/>
<path d="M640.2 528.9L602.6 528.3" fill="none" stroke="#3434ff" stroke-width="1.0"/>
<path d="M640.2 528.9L591.1 547M640.2 528.9L624.7 575.8" fill="none" stroke="#ff3030" stroke-width="1.0"/>
<path d="M640.2 528.9L607.5 526.4M640.2 528.9L672 533" fill="none" stroke="#3434ff" stroke-width="1.0"/>
<path d="M640.2 528.9L597.7 541.7M640.2 528.9L632.1 571M640.2 528.9L680.4 538.3M640.2 528.9L681.1 533.3" fill="none" stroke="#ff3030" stroke-width="1.0"/>
<path d="M640.2 528.9L612.4 524.9" fill="none" stroke="#3434ff" stroke-width="1.0"/>
<path d="M640.2 528.9L675.4 543.4M640.2 528.9L639.5 566.7M640.2 528.9L603.6 537.8M640.2 528.9L677.3 529.1M640.2 528.9L668.5 546.5M640.2 528.9L672.9 527M640.2 528.9L646.4 560.4M640.2 528.9L609 535.5" fill="none" stroke="#ff3030" stroke-width="1.0"/>
<path d="M640.2 528.9L618.4 524.4" fill="none" stroke="#3434ff" stroke-width="1.0"/>
<path d="M640.2 528.9L654.6 555.4M640.2 528.9L611.5 534.5M640.2 528.9L660.3 549.7M640.2 528.9L614 533.5" fill="none" stroke="#ff3030" stroke-width="1.0"/>
<path d="M640.2 528.9L623.8 524.4" fill="none" stroke="#3434ff" stroke-width="1.0"/>
<path d="M640.2 528.9L616.5 532.75M640.2 528.9L664 527.6M640.2 528.9L619 532M640.2 528.9L621.5 531.5M640.2 528.9L624 531M640.2 528.9L656 528.2" fill="none" stroke="#ff3030" stroke-width="1.0"/>
<path d="M640.2 528.9L630 525" fill="none" stroke="#3434ff" stroke-width="1.0"/>
<path d="M640.2 528.9L626.5 530.5M640.2 528.9L629 530M640.2 528.9L631.5 529.75M640.2 528.9L648 528.6" fill="none" stroke="#ff3030" stroke-width="1.0"/>
<path d="M640.2 528.9L636 526" fill="none" stroke="#3434ff" stroke-width="1.0"/>
<path d="M640.2 528.9L634 529.5" fill="none" stroke="#ff3030" stroke-width="1.0"/>
<text x="27.8" y="14" font-family="Liberation Sans" font-size="9.2" font-weight="normal" fill="#1a1a1a" textLength="37.3" lengthAdjust="spacingAndGlyphs" stroke="#1a1a1a" stroke-width="0.18">Horizontal:</text>
<text x="277.5" y="14.2" font-family="Liberation Sans" font-size="9.2" font-weight="normal" fill="#1a1a1a" textLength="26" lengthAdjust="spacingAndGlyphs" stroke="#1a1a1a" stroke-width="0.18">Frontal:</text>
<text x="530.3" y="14.2" font-family="Liberation Sans" font-size="10" font-weight="bold" fill="#111" textLength="38.2" lengthAdjust="spacingAndGlyphs">Sagittal</text>
<text x="145.35" y="19.7" font-family="Liberation Sans" font-size="10.0" font-weight="normal" fill="#1a1a1a" text-anchor="middle">P</text>
<text x="30.52" y="108.7" font-family="Liberation Sans" font-size="10.0" font-weight="normal" fill="#1a1a1a" text-anchor="middle">R</text>
<text x="260.85" y="108.7" font-family="Liberation Sans" font-size="10.0" font-weight="normal" fill="#1a1a1a" text-anchor="middle">L</text>
<text x="146.95" y="202.9" font-family="Liberation Sans" font-size="10.0" font-weight="normal" fill="#1a1a1a" text-anchor="middle">A</text>
<text x="396" y="19.7" font-family="Liberation Sans" font-size="10.0" font-weight="normal" fill="#1a1a1a" text-anchor="middle">S</text>
<text x="279" y="109.9" font-family="Liberation Sans" font-size="10.0" font-weight="normal" fill="#1a1a1a" text-anchor="middle">R</text>
<text x="510.48" y="107.9" font-family="Liberation Sans" font-size="10.0" font-weight="normal" fill="#1a1a1a" text-anchor="middle">L</text>
<text x="395" y="202.2" font-family="Liberation Sans" font-size="10.0" font-weight="normal" fill="#1a1a1a" text-anchor="middle">I</text>
<text x="641.15" y="21.7" font-family="Liberation Sans" font-size="10.0" font-weight="normal" fill="#1a1a1a" text-anchor="middle">S</text>
<text x="529.95" y="107" font-family="Liberation Sans" font-size="10.0" font-weight="normal" fill="#1a1a1a" text-anchor="middle">P</text>
<text x="751.4" y="106.8" font-family="Liberation Sans" font-size="10.0" font-weight="normal" fill="#1a1a1a" text-anchor="middle">A</text>
<text x="640.7" y="198.7" font-family="Liberation Sans" font-size="10.0" font-weight="normal" fill="#1a1a1a" text-anchor="middle">I</text>
<text x="27.5" y="224.8" font-family="Liberation Sans" font-size="9.2" font-weight="normal" fill="#1a1a1a" textLength="37.3" lengthAdjust="spacingAndGlyphs" stroke="#1a1a1a" stroke-width="0.18">Horizontal:</text>
<text x="277.5" y="224.8" font-family="Liberation Sans" font-size="9.2" font-weight="normal" fill="#1a1a1a" textLength="26" lengthAdjust="spacingAndGlyphs" stroke="#1a1a1a" stroke-width="0.18">Frontal:</text>
<text x="527.5" y="225.8" font-family="Liberation Sans" font-size="10" font-weight="bold" fill="#111" textLength="38.2" lengthAdjust="spacingAndGlyphs">Sagittal</text>
<text x="146.3" y="231.7" font-family="Liberation Sans" font-size="10.0" font-weight="normal" fill="#1a1a1a" text-anchor="middle">P</text>
<text x="28.55" y="323.1" font-family="Liberation Sans" font-size="10.0" font-weight="normal" fill="#1a1a1a" text-anchor="middle">R</text>
<text x="263.4" y="321.8" font-family="Liberation Sans" font-size="10.0" font-weight="normal" fill="#1a1a1a" text-anchor="middle">L</text>
<text x="144.9" y="411.7" font-family="Liberation Sans" font-size="10.0" font-weight="normal" fill="#1a1a1a" text-anchor="middle">A</text>
<text x="395.8" y="229.8" font-family="Liberation Sans" font-size="10.0" font-weight="normal" fill="#1a1a1a" text-anchor="middle">S</text>
<text x="278.9" y="321.8" font-family="Liberation Sans" font-size="10.0" font-weight="normal" fill="#1a1a1a" text-anchor="middle">R</text>
<text x="511.7" y="319.6" font-family="Liberation Sans" font-size="10.0" font-weight="normal" fill="#1a1a1a" text-anchor="middle">L</text>
<text x="394.9" y="413.6" font-family="Liberation Sans" font-size="10.0" font-weight="normal" fill="#1a1a1a" text-anchor="middle">I</text>
<text x="640.1" y="231.7" font-family="Liberation Sans" font-size="10.0" font-weight="normal" fill="#1a1a1a" text-anchor="middle">S</text>
<text x="532.5" y="319.2" font-family="Liberation Sans" font-size="10.0" font-weight="normal" fill="#1a1a1a" text-anchor="middle">P</text>
<text x="750.9" y="317.6" font-family="Liberation Sans" font-size="10.0" font-weight="normal" fill="#1a1a1a" text-anchor="middle">A</text>
<text x="640.9" y="408.6" font-family="Liberation Sans" font-size="10.0" font-weight="normal" fill="#1a1a1a" text-anchor="middle">I</text>
<text x="27.5" y="437.8" font-family="Liberation Sans" font-size="9.2" font-weight="normal" fill="#1a1a1a" textLength="37.3" lengthAdjust="spacingAndGlyphs" stroke="#1a1a1a" stroke-width="0.18">Horizontal:</text>
<text x="277.5" y="437.4" font-family="Liberation Sans" font-size="9.2" font-weight="normal" fill="#1a1a1a" textLength="26" lengthAdjust="spacingAndGlyphs" stroke="#1a1a1a" stroke-width="0.18">Frontal:</text>
<text x="527.5" y="439.8" font-family="Liberation Sans" font-size="10" font-weight="bold" fill="#111" textLength="38.2" lengthAdjust="spacingAndGlyphs">Sagittal</text>
<text x="147.3" y="441.4" font-family="Liberation Sans" font-size="10.0" font-weight="normal" fill="#1a1a1a" text-anchor="middle">P</text>
<text x="30.4" y="530.6" font-family="Liberation Sans" font-size="10.0" font-weight="normal" fill="#1a1a1a" text-anchor="middle">R</text>
<text x="262.9" y="531.9" font-family="Liberation Sans" font-size="10.0" font-weight="normal" fill="#1a1a1a" text-anchor="middle">L</text>
<text x="144.95" y="624" font-family="Liberation Sans" font-size="10.0" font-weight="normal" fill="#1a1a1a" text-anchor="middle">A</text>
<text x="396.8" y="444.1" font-family="Liberation Sans" font-size="10.0" font-weight="normal" fill="#1a1a1a" text-anchor="middle">S</text>
<text x="280.4" y="530.6" font-family="Liberation Sans" font-size="10.0" font-weight="normal" fill="#1a1a1a" text-anchor="middle">R</text>
<text x="508.9" y="533" font-family="Liberation Sans" font-size="10.0" font-weight="normal" fill="#1a1a1a" text-anchor="middle">L</text>
<text x="394.7" y="624.8" font-family="Liberation Sans" font-size="10.0" font-weight="normal" fill="#1a1a1a" text-anchor="middle">I</text>
<text x="640.7" y="446.1" font-family="Liberation Sans" font-size="10.0" font-weight="normal" fill="#1a1a1a" text-anchor="middle">S</text>
<text x="527.5" y="533" font-family="Liberation Sans" font-size="10.0" font-weight="normal" fill="#1a1a1a" text-anchor="middle">P</text>
<text x="751.3" y="530.7" font-family="Liberation Sans" font-size="10.0" font-weight="normal" fill="#1a1a1a" text-anchor="middle">A</text>
<text x="642" y="621.4" font-family="Liberation Sans" font-size="10.0" font-weight="normal" fill="#1a1a1a" text-anchor="middle">I</text>
<text x="83.2" y="200.8" font-family="Liberation Sans" font-size="9.6" font-weight="normal" fill="#ff1a1a" textLength="30.7" lengthAdjust="spacingAndGlyphs" stroke="#ff1a1a" stroke-width="0.18">Standing</text>
<text x="183.7" y="202" font-family="Liberation Sans" font-size="9.6" font-weight="normal" fill="#2a2aff" textLength="57.4" lengthAdjust="spacingAndGlyphs" stroke="#2a2aff" stroke-width="0.18">Exercise 5.5 min</text>
<text x="83.7" y="409.6" font-family="Liberation Sans" font-size="9.6" font-weight="normal" fill="#ff1a1a" textLength="30.5" lengthAdjust="spacingAndGlyphs" stroke="#ff1a1a" stroke-width="0.18">Standing</text>
<text x="181.8" y="410.4" font-family="Liberation Sans" font-size="9.6" font-weight="normal" fill="#1a1a1a" textLength="57.2" lengthAdjust="spacingAndGlyphs" stroke="#1a1a1a" stroke-width="0.18">Exercise 8.5 min</text>
<text x="77.7" y="623.6" font-family="Liberation Sans" font-size="9.6" font-weight="normal" fill="#ff1a1a" textLength="30.8" lengthAdjust="spacingAndGlyphs" stroke="#ff1a1a" stroke-width="0.18">Standing</text>
<text x="158.7" y="624.2" font-family="Liberation Sans" font-size="9.6" font-weight="normal" fill="#2a2aff" textLength="91.9" lengthAdjust="spacingAndGlyphs" stroke="#2a2aff" stroke-width="0.18">Post Exercise Sitting 2 min</text>
<text transform="translate(12.85,208) scale(0.76,1)" font-family="Liberation Serif" font-size="16.5" font-weight="bold" fill="#000" text-anchor="middle">I</text>
<text transform="translate(8.65,419) scale(0.76,1)" font-family="Liberation Serif" font-size="16.5" font-weight="bold" fill="#000" text-anchor="middle">I</text>
<text transform="translate(14.55,419) scale(0.76,1)" font-family="Liberation Serif" font-size="16.5" font-weight="bold" fill="#000" text-anchor="middle">I</text>
<text transform="translate(3.1,632) scale(0.76,1)" font-family="Liberation Serif" font-size="16.5" font-weight="bold" fill="#000" text-anchor="middle">I</text>
<text transform="translate(9.15,632) scale(0.76,1)" font-family="Liberation Serif" font-size="16.5" font-weight="bold" fill="#000" text-anchor="middle">I</text>
<text transform="translate(15.3,632) scale(0.76,1)" font-family="Liberation Serif" font-size="16.5" font-weight="bold" fill="#000" text-anchor="middle">I</text>
</svg>
</body></html>
